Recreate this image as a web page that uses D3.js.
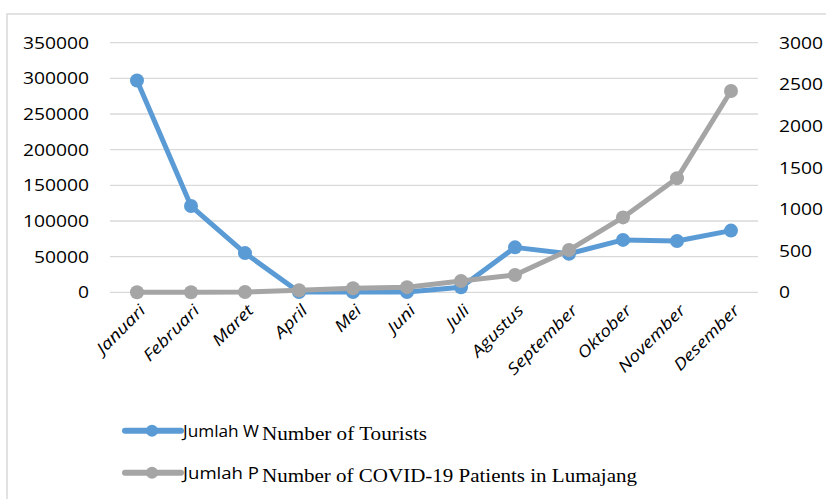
<!DOCTYPE html>
<html lang="en">
<head>
    <meta charset="UTF-8">
    <title>Tourists and COVID-19 Patients in Lumajang</title>
    <script src="https://d3js.org/d3.v7.min.js"></script>
    <style>
        body { margin: 0; background: #fff; }
        .tick-label { font-family: 'Open Sans', sans-serif; font-size: 16px; fill: #000; }
        .month-label { font-family: 'Open Sans', sans-serif; font-size: 16px; font-style: italic; fill: #000; }
        .grid-line { stroke: #d9d9d9; stroke-width: 1.3; }
        .legend-sans { font-family: 'Open Sans', sans-serif; font-size: 17px; fill: #000; }
        .legend-serif { font-family: 'Liberation Serif', 'Times New Roman', serif; font-size: 19px; fill: #000; }
    </style>
</head>
<body>
    <script>
        const months = ['Januari', 'Februari', 'Maret', 'April', 'Mei', 'Juni',
            'Juli', 'Agustus', 'September', 'Oktober', 'November', 'Desember'];
        const tourists = [297000, 121000, 55000, 500, 500, 500, 7000, 63000, 54000, 73500, 72000, 86500];
        const patients = [0, 1, 3, 25, 48, 62, 135, 208, 508, 900, 1370, 2420];
        const leftTicks = [0, 50000, 100000, 150000, 200000, 250000, 300000, 350000];
        const rightTicks = [0, 500, 1000, 1500, 2000, 2500, 3000];
        const legendLabels = ['Jumlah W', 'Jumlah P'];
        const legendOverlays = ['Number of Tourists', 'Number of COVID-19 Patients in Lumajang'];

        const svg = d3.select('body').append('svg')
            .attr('width', 826)
            .attr('height', 499);

        // chart border
        svg.append('rect')
            .attr('x', 7).attr('y', 14)
            .attr('width', 840).attr('height', 520)
            .attr('fill', '#fff')
            .attr('stroke', '#d9d9d9')
            .attr('stroke-width', 1.5);

        const xScale = d3.scaleBand()
            .domain(months)
            .range([110, 758]);
        const xc = m => xScale(m) + xScale.bandwidth() / 2;

        const yLeft = d3.scaleLinear()
            .domain([0, 350000])
            .range([292.3, 42.7]);
        const yRight = d3.scaleLinear()
            .domain([0, 3000])
            .range([292.3, 42.7]);

        // grid lines
        svg.selectAll('.grid-line')
            .data(leftTicks)
            .enter().append('line')
            .attr('class', 'grid-line')
            .attr('x1', 110).attr('x2', 758)
            .attr('y1', d => yLeft(d)).attr('y2', d => yLeft(d));

        // left axis labels
        svg.selectAll('.left-label')
            .data(leftTicks)
            .enter().append('text')
            .attr('class', 'tick-label')
            .attr('x', 89)
            .attr('y', d => yLeft(d) + 6)
            .attr('text-anchor', 'end')
            .attr('textLength', d => String(d).length * 11)
            .attr('lengthAdjust', 'spacingAndGlyphs')
            .text(d => d);

        // right axis labels
        svg.selectAll('.right-label')
            .data(rightTicks)
            .enter().append('text')
            .attr('class', 'tick-label')
            .attr('x', 779)
            .attr('y', d => yRight(d) + 6)
            .attr('textLength', d => String(d).length * 11)
            .attr('lengthAdjust', 'spacingAndGlyphs')
            .text(d => d);

        // month labels (stretched a bit, like the reference)
        svg.selectAll('.month-label')
            .data(months)
            .enter().append('text')
            .attr('class', 'month-label')
            .attr('text-anchor', 'end')
            .attr('transform', d => `translate(${xc(d) + 1},${303}) rotate(-45)`)
            .attr('dy', '0.75em')
            .text(d => d)
            .each(function () {
                const w = this.getComputedTextLength();
                d3.select(this)
                    .attr('textLength', w * 1.2)
                    .attr('lengthAdjust', 'spacingAndGlyphs');
            });

        const lineLeft = d3.line()
            .x((d, i) => xc(months[i]))
            .y(d => yLeft(d));
        const lineRight = d3.line()
            .x((d, i) => xc(months[i]))
            .y(d => yRight(d));

        const blue = '#5b9bd5';
        const grey = '#a5a5a5';

        svg.append('path')
            .datum(tourists)
            .attr('fill', 'none')
            .attr('stroke', blue)
            .attr('stroke-width', 5)
            .attr('stroke-linejoin', 'round')
            .attr('d', lineLeft);

        svg.selectAll('.dot-tourist')
            .data(tourists)
            .enter().append('circle')
            .attr('cx', (d, i) => xc(months[i]))
            .attr('cy', d => yLeft(d))
            .attr('r', 7)
            .attr('fill', blue);

        svg.append('path')
            .datum(patients)
            .attr('fill', 'none')
            .attr('stroke', grey)
            .attr('stroke-width', 5)
            .attr('stroke-linejoin', 'round')
            .attr('d', lineRight);

        svg.selectAll('.dot-patient')
            .data(patients)
            .enter().append('circle')
            .attr('cx', (d, i) => xc(months[i]))
            .attr('cy', d => yRight(d))
            .attr('r', 7)
            .attr('fill', grey);

        // legend
        const legendColors = [blue, grey];
        legendLabels.forEach((label, i) => {
            const ly = 430.7 + i * 42;
            svg.append('line')
                .attr('x1', 125).attr('x2', 181)
                .attr('y1', ly).attr('y2', ly)
                .attr('stroke', legendColors[i])
                .attr('stroke-width', 6)
                .attr('stroke-linecap', 'round');
            svg.append('circle')
                .attr('cx', 152).attr('cy', ly)
                .attr('r', 6)
                .attr('fill', legendColors[i]);
            svg.append('text')
                .attr('class', 'legend-sans')
                .attr('x', 183)
                .attr('y', ly + 6.5)
                .attr('textLength', 76)
                .attr('lengthAdjust', 'spacingAndGlyphs')
                .text(label);
            svg.append('text')
                .attr('class', 'legend-serif')
                .attr('x', 262)
                .attr('y', ly + 9)
                .attr('textLength', i === 0 ? 165 : 375)
                .attr('lengthAdjust', 'spacingAndGlyphs')
                .text(legendOverlays[i]);
        });
    </script>
</body>
</html>
